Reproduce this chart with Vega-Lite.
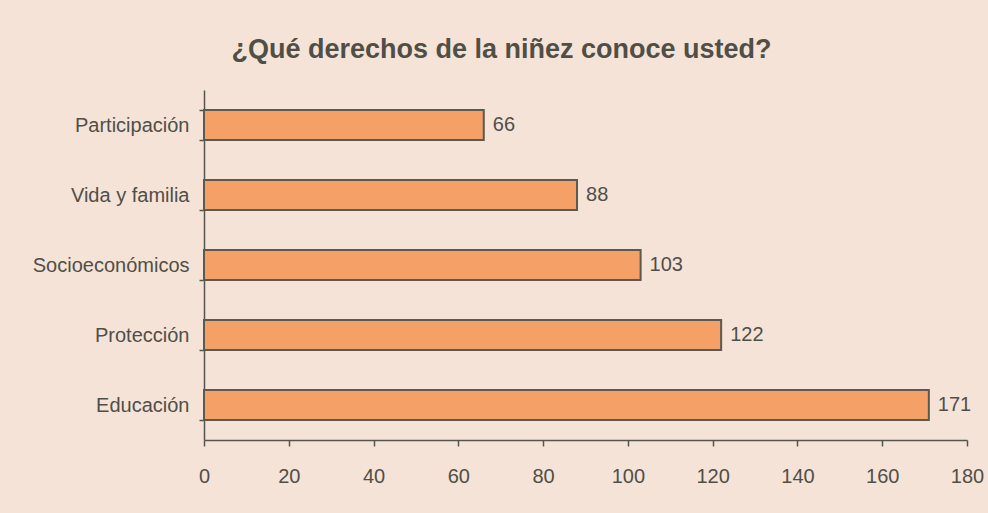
{
  "$schema": "https://vega.github.io/schema/vega-lite/v6.json",
  "autosize": {"type": "none"},
  "width": 763,
  "height": 350,
  "padding": {"left": 204, "top": 90, "right": 21, "bottom": 73},
  "background": "#f6e3d8",
  "title": {
    "text": "¿Qué derechos de la niñez conoce usted?",
    "font": "Liberation Sans",
    "fontSize": 27,
    "fontWeight": "bold",
    "color": "#4f4f47",
    "anchor": "middle",
    "frame": "group",
    "baseline": "alphabetic",
    "dx": -84,
    "dy": 37,
    "offset": 32
  },
  "data": {
    "values": [
      {"derecho": "Participación", "valor": 66},
      {"derecho": "Vida y familia", "valor": 88},
      {"derecho": "Socioeconómicos", "valor": 103},
      {"derecho": "Protección", "valor": 122},
      {"derecho": "Educación", "valor": 171}
    ]
  },
  "encoding": {
    "y": {
      "field": "derecho",
      "type": "nominal",
      "sort": null,
      "scale": {"paddingInner": 0.57, "paddingOuter": 0.285},
      "axis": {
        "title": null,
        "tickBand": "extent",
        "tickSize": 5,
        "tickColor": "#55554d",
        "tickWidth": 1.5,
        "domainColor": "#55554d",
        "domainWidth": 1.5,
        "labelFont": "Liberation Sans",
        "labelFontSize": 20,
        "labelColor": "#4f4f47",
        "labelPadding": 10
      }
    },
    "x": {
      "field": "valor",
      "type": "quantitative",
      "scale": {"domain": [0, 180], "nice": false},
      "axis": {
        "title": null,
        "values": [0, 20, 40, 60, 80, 100, 120, 140, 160, 180],
        "grid": false,
        "tickSize": 6,
        "tickColor": "#55554d",
        "tickWidth": 1.5,
        "domainColor": "#55554d",
        "domainWidth": 1.5,
        "labelFont": "Liberation Sans",
        "labelFontSize": 20,
        "labelColor": "#4f4f47",
        "labelPadding": 20,
        "labelFlush": false
      }
    }
  },
  "layer": [
    {
      "mark": {"type": "bar", "fill": "#f5a066", "stroke": "#5a5a50", "strokeWidth": 2}
    },
    {
      "mark": {"type": "text", "align": "left", "dx": 9, "font": "Liberation Sans", "fontSize": 20, "color": "#4f4f47"},
      "encoding": {"text": {"field": "valor", "type": "quantitative"}}
    }
  ],
  "config": {"view": {"stroke": null}}
}
